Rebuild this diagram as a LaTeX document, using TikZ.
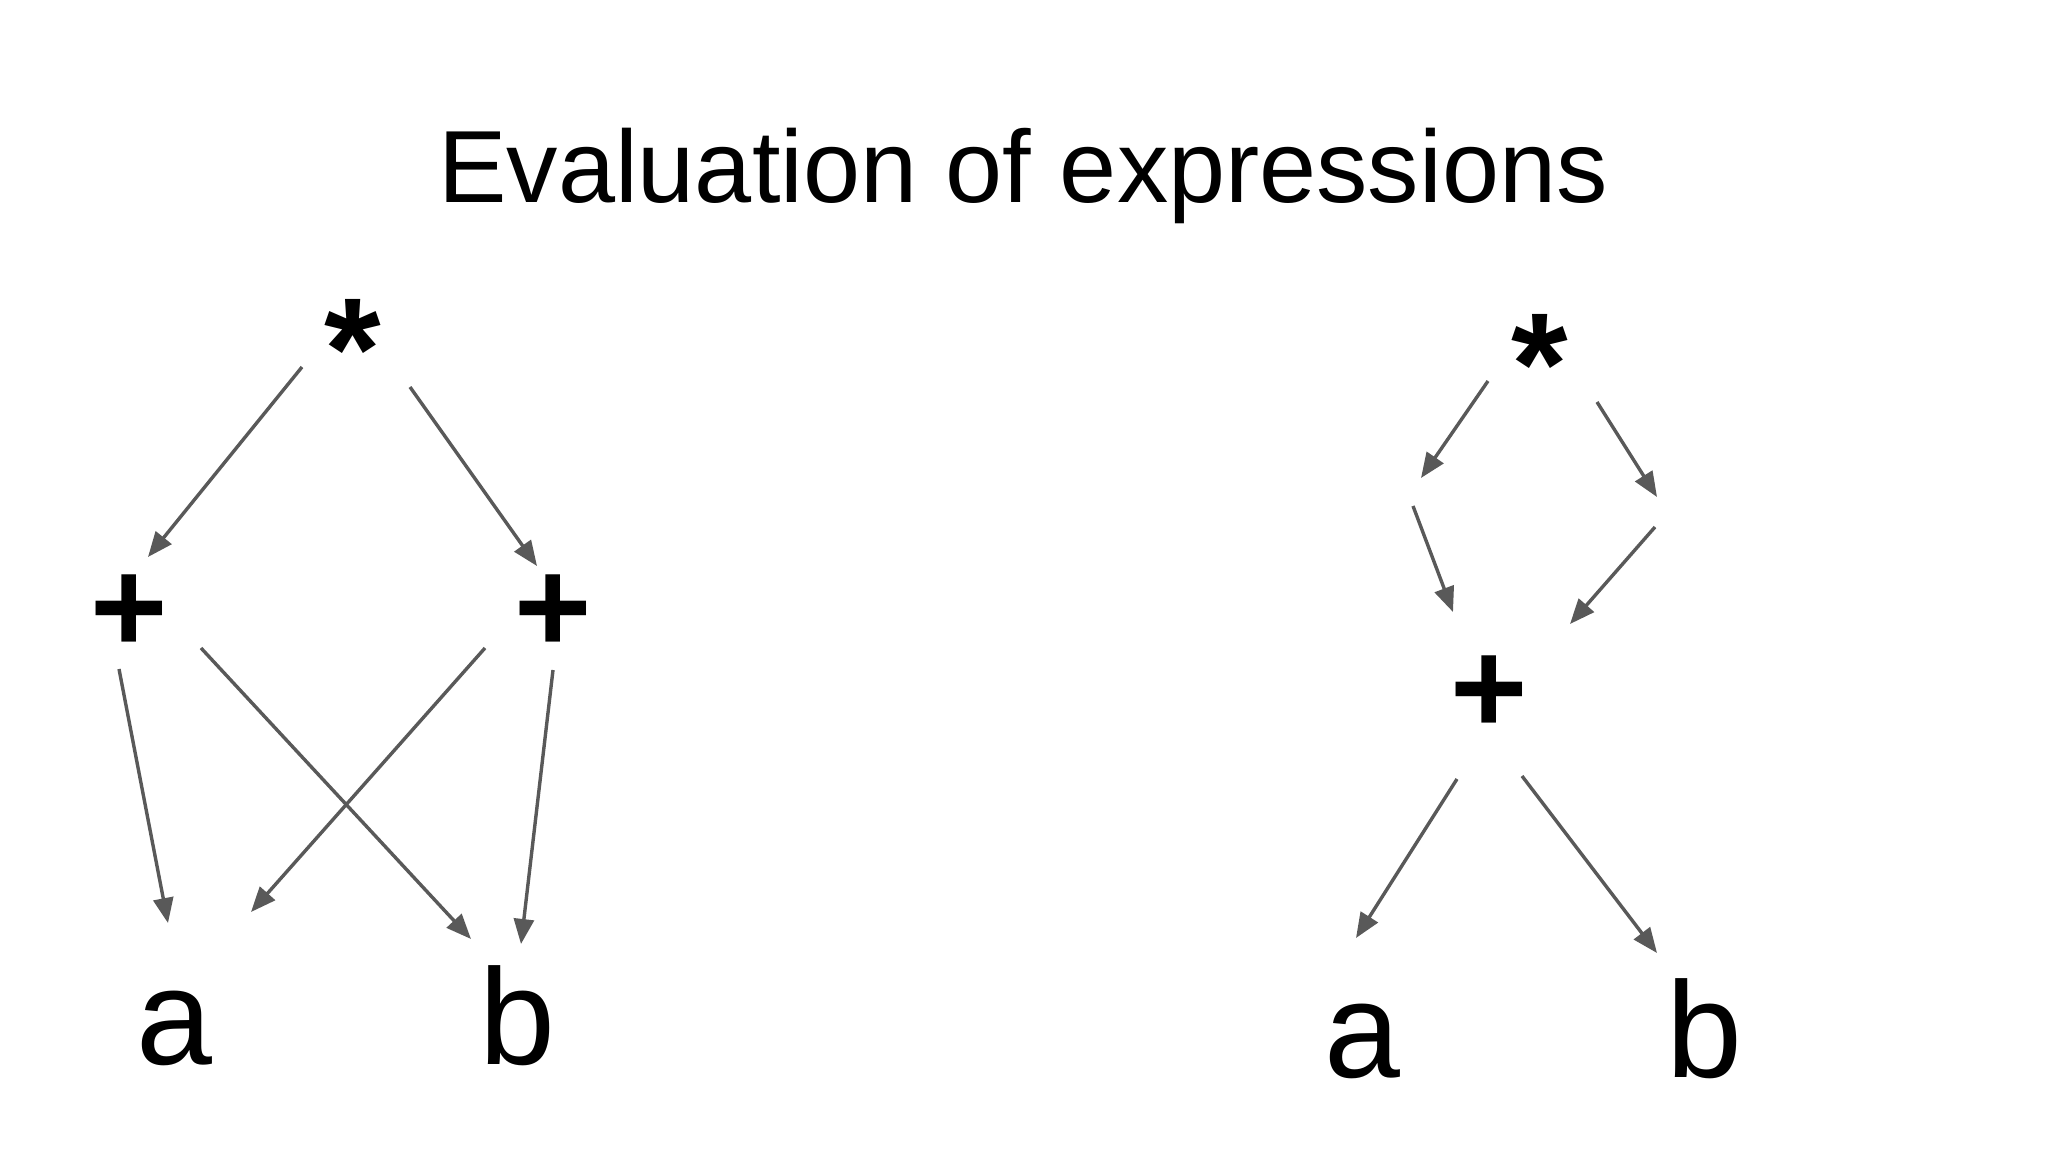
\documentclass[tikz,border=0pt]{standalone}
\usepackage{fontspec}
\setmainfont{Liberation Sans}
\usetikzlibrary{arrows.meta}
\definecolor{arrowgray}{HTML}{595959}
\begin{document}
\begin{tikzpicture}[x=1bp,y=-1bp,
  titletext/.style={anchor=base, inner sep=0pt, font=\fontsize{103}{120}\selectfont},
  lbl/.style={anchor=base, inner sep=0pt, font=\fontsize{137}{150}\selectfont},
  opplus/.style={anchor=base, inner sep=0pt, font=\fontsize{133}{150}\selectfont\bfseries},
  opmul/.style={anchor=base, inner sep=0pt, font=\fontsize{146}{160}\selectfont\bfseries},
  conn/.style={draw=arrowgray, line width=3.4bp, -{Triangle[length=25bp,width=20bp]}}]
\fill[white] (0,0) rectangle (2048,1152);
\useasboundingbox (0,0) rectangle (2048,1152);

\node[titletext] (title) at (1023,202) {Evaluation of expressions};

% left tree
\node[opmul] (mulL) at (353,399) {*};
\node[opplus] (plusLL) at (129,652) {+};
\node[opplus] (plusLR) at (553,652) {+};
\node[lbl] (aL) at (174,1064) {a};
\node[lbl] (bL) at (517,1064) {b};

\draw[conn] ([shift={(-51,-32)}]mulL.base) -- ([shift={(19,-95)}]plusLL.base);
\draw[conn] ([shift={(57,-12)}]mulL.base) -- ([shift={(-16,-86)}]plusLR.base);
\draw[conn] ([shift={(-10,17)}]plusLL.base) -- ([shift={(-6,-141)}]aL.base);
\draw[conn] ([shift={(72,-4)}]plusLL.base) -- ([shift={(-46,-125)}]bL.base);
\draw[conn] ([shift={(-68,-4)}]plusLR.base) -- ([shift={(77,-152)}]aL.base);
\draw[conn] ([shift={(0,18)}]plusLR.base) -- ([shift={(4,-120)}]bL.base);

% right tree
\node[opmul] (mulR) at (1540,414) {*};
\coordinate (m1) at (1417,492);
\coordinate (m2) at (1656,511);
\node[opplus] (plusR) at (1489,733) {+};
\node[lbl] (aR) at (1362,1077) {a};
\node[lbl] (bR) at (1704,1077) {b};

\draw[conn] ([shift={(-52,-33)}]mulR.base) -- ([shift={(4,-14)}]m1);
\draw[conn] ([shift={(57,-12)}]mulR.base) -- ([shift={(1,-14)}]m2);
\draw[conn] ([shift={(-4,14)}]m1) -- ([shift={(-36,-121)}]plusR.base);
\draw[conn] ([shift={(-1,16)}]m2) -- ([shift={(81,-109)}]plusR.base);
\draw[conn] ([shift={(-32,46)}]plusR.base) -- ([shift={(-6,-139)}]aR.base);
\draw[conn] ([shift={(33,43)}]plusR.base) -- ([shift={(-47,-124)}]bR.base);
\end{tikzpicture}
\end{document}
